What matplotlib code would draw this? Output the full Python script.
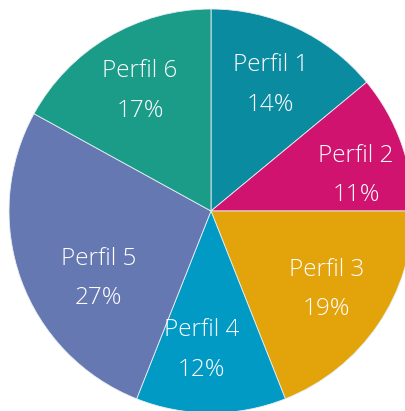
import numpy as np
import matplotlib.pyplot as plt

plt.rcParams['font.family'] = ['Open Sans', 'DejaVu Sans']

# data
perfiles = ['Perfil 1', 'Perfil 2', 'Perfil 3', 'Perfil 4', 'Perfil 5', 'Perfil 6']
porcentajes = [14, 11, 19, 12, 27, 17]
colores = ['#0A8BA0', '#CF136E', '#E2A30B', '#019AC5', '#6678B1', '#1A9C88']

# small nudges (angle deg, radius) for labels that were moved to fit
ajustes = {'Perfil 2': (-6, 0.05), 'Perfil 4': (-4, 0), 'Perfil 5': (11, -0.04)}

fig = plt.figure(figsize=(4.06, 4.11), dpi=100)
ax = fig.add_axes([0, 0, 1, 1])

wedges, _ = ax.pie(porcentajes, colors=colores, startangle=90, counterclock=False,
                   radius=1, wedgeprops=dict(edgecolor='#e8eef2', linewidth=0.6))

for w, nombre, pct in zip(wedges, perfiles, porcentajes):
    ang = (w.theta1 + w.theta2) / 2
    r = 0.69
    da, dr = ajustes.get(nombre, (0, 0))
    ang += da
    r += dr
    x = r * np.cos(np.radians(ang))
    y = r * np.sin(np.radians(ang))
    ax.text(x, y, f'{nombre}\n{pct}%', ha='center', va='center', color='white',
            fontsize=17.5, linespacing=1.85, fontweight='light')

# pie centre at (211, 211) px with radius 202 px
ax.set_aspect('auto')
ax.set_xlim(-211 / 202, (406 - 211) / 202)
ax.set_ylim(-(411 - 211) / 202, 211 / 202)
ax.axis('off')

fig.savefig('out.png', dpi=100)
